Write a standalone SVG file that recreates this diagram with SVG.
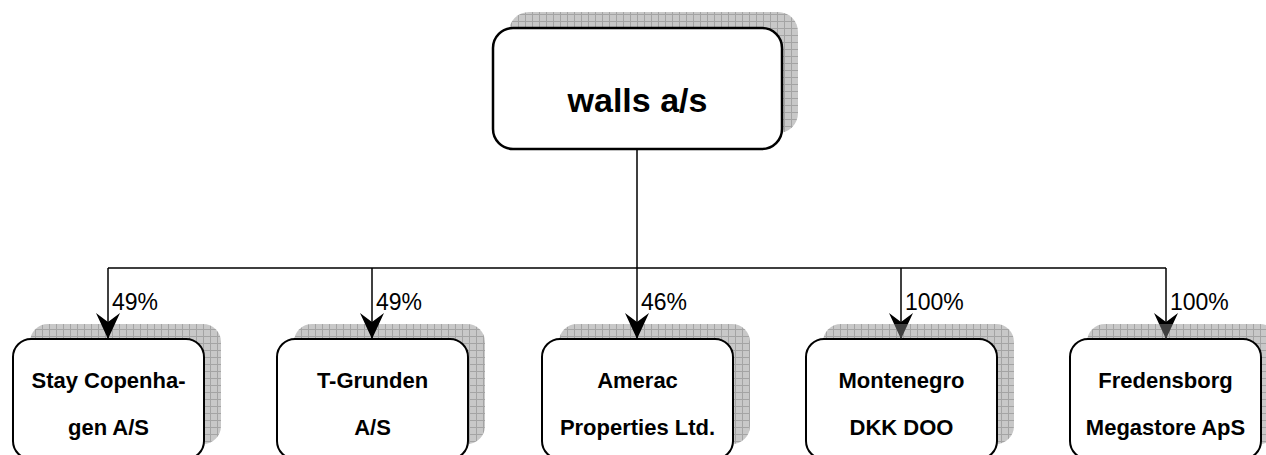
<svg xmlns="http://www.w3.org/2000/svg" width="1266" height="455" viewBox="0 0 1266 455">
  <style>
    .box { fill: #ffffff; stroke: #000000; stroke-width: 2; }
    .top { stroke-width: 2.5; }
    .shadow { fill: url(#grid); stroke: none; }
    .title { font-family: "Liberation Sans", Arial, sans-serif; font-weight: bold; font-size: 34px; text-anchor: middle; fill: #000; }
    .name { font-family: "Liberation Sans", Arial, sans-serif; font-weight: bold; font-size: 22px; text-anchor: middle; fill: #000; }
    .pct { font-family: "Liberation Sans", Arial, sans-serif; font-size: 23px; fill: #000; }
    .line { fill: none; stroke: #000; stroke-width: 1.5; }
  </style>
  <defs>
    <pattern id="grid" patternUnits="userSpaceOnUse" width="7" height="7">
      <rect width="7" height="7" fill="#c8c8c8"/>
      <path d="M0 0.5 H7 M0.5 0 V7" stroke="#a4a4a4" stroke-width="1"/>
    </pattern>
    <linearGradient id="fade" x1="0" y1="0" x2="1" y2="0">
      <stop offset="0" stop-color="#000"/>
      <stop offset="0.42" stop-color="#000"/>
      <stop offset="0.42" stop-color="#404040"/>
      <stop offset="1" stop-color="#404040"/>
    </linearGradient>
    <marker id="arrow" markerUnits="userSpaceOnUse" viewBox="0 0 26 24" refX="26" refY="12" markerWidth="26" markerHeight="24" orient="auto">
      <path d="M0 0 L26 12 L0 24 L9 12 Z" fill="#000"/>
    </marker>
    <marker id="arrowGray" markerUnits="userSpaceOnUse" viewBox="0 0 26 24" refX="26" refY="12" markerWidth="26" markerHeight="24" orient="auto">
      <path d="M0 0 L26 12 L0 24 L9 12 Z" fill="url(#fade)"/>
    </marker>
  </defs>

  <g id="node-walls">
    <rect class="shadow" x="509" y="12" width="289" height="121" rx="20"/>
    <rect class="box top" x="493" y="28" width="289" height="121" rx="20"/>
    <text class="title" x="637.5" y="112">walls a/s</text>
  </g>

  <g id="node-stay">
    <rect class="shadow" x="30" y="324" width="191" height="120" rx="18"/>
    <rect class="box" x="13" y="339" width="191" height="120" rx="18"/>
    <text class="name" x="108.5" y="388">Stay Copenha-</text>
    <text class="name" x="108.5" y="435">gen A/S</text>
  </g>

  <g id="node-tgrunden">
    <rect class="shadow" x="294" y="324" width="191" height="120" rx="18"/>
    <rect class="box" x="277" y="339" width="191" height="120" rx="18"/>
    <text class="name" x="372.5" y="388">T-Grunden</text>
    <text class="name" x="372.5" y="435">A/S</text>
  </g>

  <g id="node-amerac">
    <rect class="shadow" x="559" y="324" width="191" height="120" rx="18"/>
    <rect class="box" x="542" y="339" width="191" height="120" rx="18"/>
    <text class="name" x="637.5" y="388">Amerac</text>
    <text class="name" x="637.5" y="435">Properties Ltd.</text>
  </g>

  <g id="node-montenegro">
    <rect class="shadow" x="823" y="324" width="191" height="120" rx="18"/>
    <rect class="box" x="806" y="339" width="191" height="120" rx="18"/>
    <text class="name" x="901.5" y="388">Montenegro</text>
    <text class="name" x="901.5" y="435">DKK DOO</text>
  </g>

  <g id="node-fredensborg">
    <rect class="shadow" x="1087" y="324" width="191" height="120" rx="18"/>
    <rect class="box" x="1070" y="339" width="191" height="120" rx="18"/>
    <text class="name" x="1165.5" y="388">Fredensborg</text>
    <text class="name" x="1165.5" y="435">Megastore ApS</text>
  </g>

  <g id="connectors">
    <path class="line" d="M637 149 V268 M108 268 H1166"/>
    <path class="line" d="M108 268 V339" marker-end="url(#arrow)"/>
    <path class="line" d="M372 268 V339" marker-end="url(#arrow)"/>
    <path class="line" d="M637 268 V339" marker-end="url(#arrow)"/>
    <path class="line" d="M901 268 V339" marker-end="url(#arrowGray)"/>
    <path class="line" d="M1166 268 V339" marker-end="url(#arrowGray)"/>
    <text class="pct" x="112" y="310">49%</text>
    <text class="pct" x="376" y="310">49%</text>
    <text class="pct" x="641" y="310">46%</text>
    <text class="pct" x="905" y="310">100%</text>
    <text class="pct" x="1170" y="310">100%</text>
  </g>
</svg>
